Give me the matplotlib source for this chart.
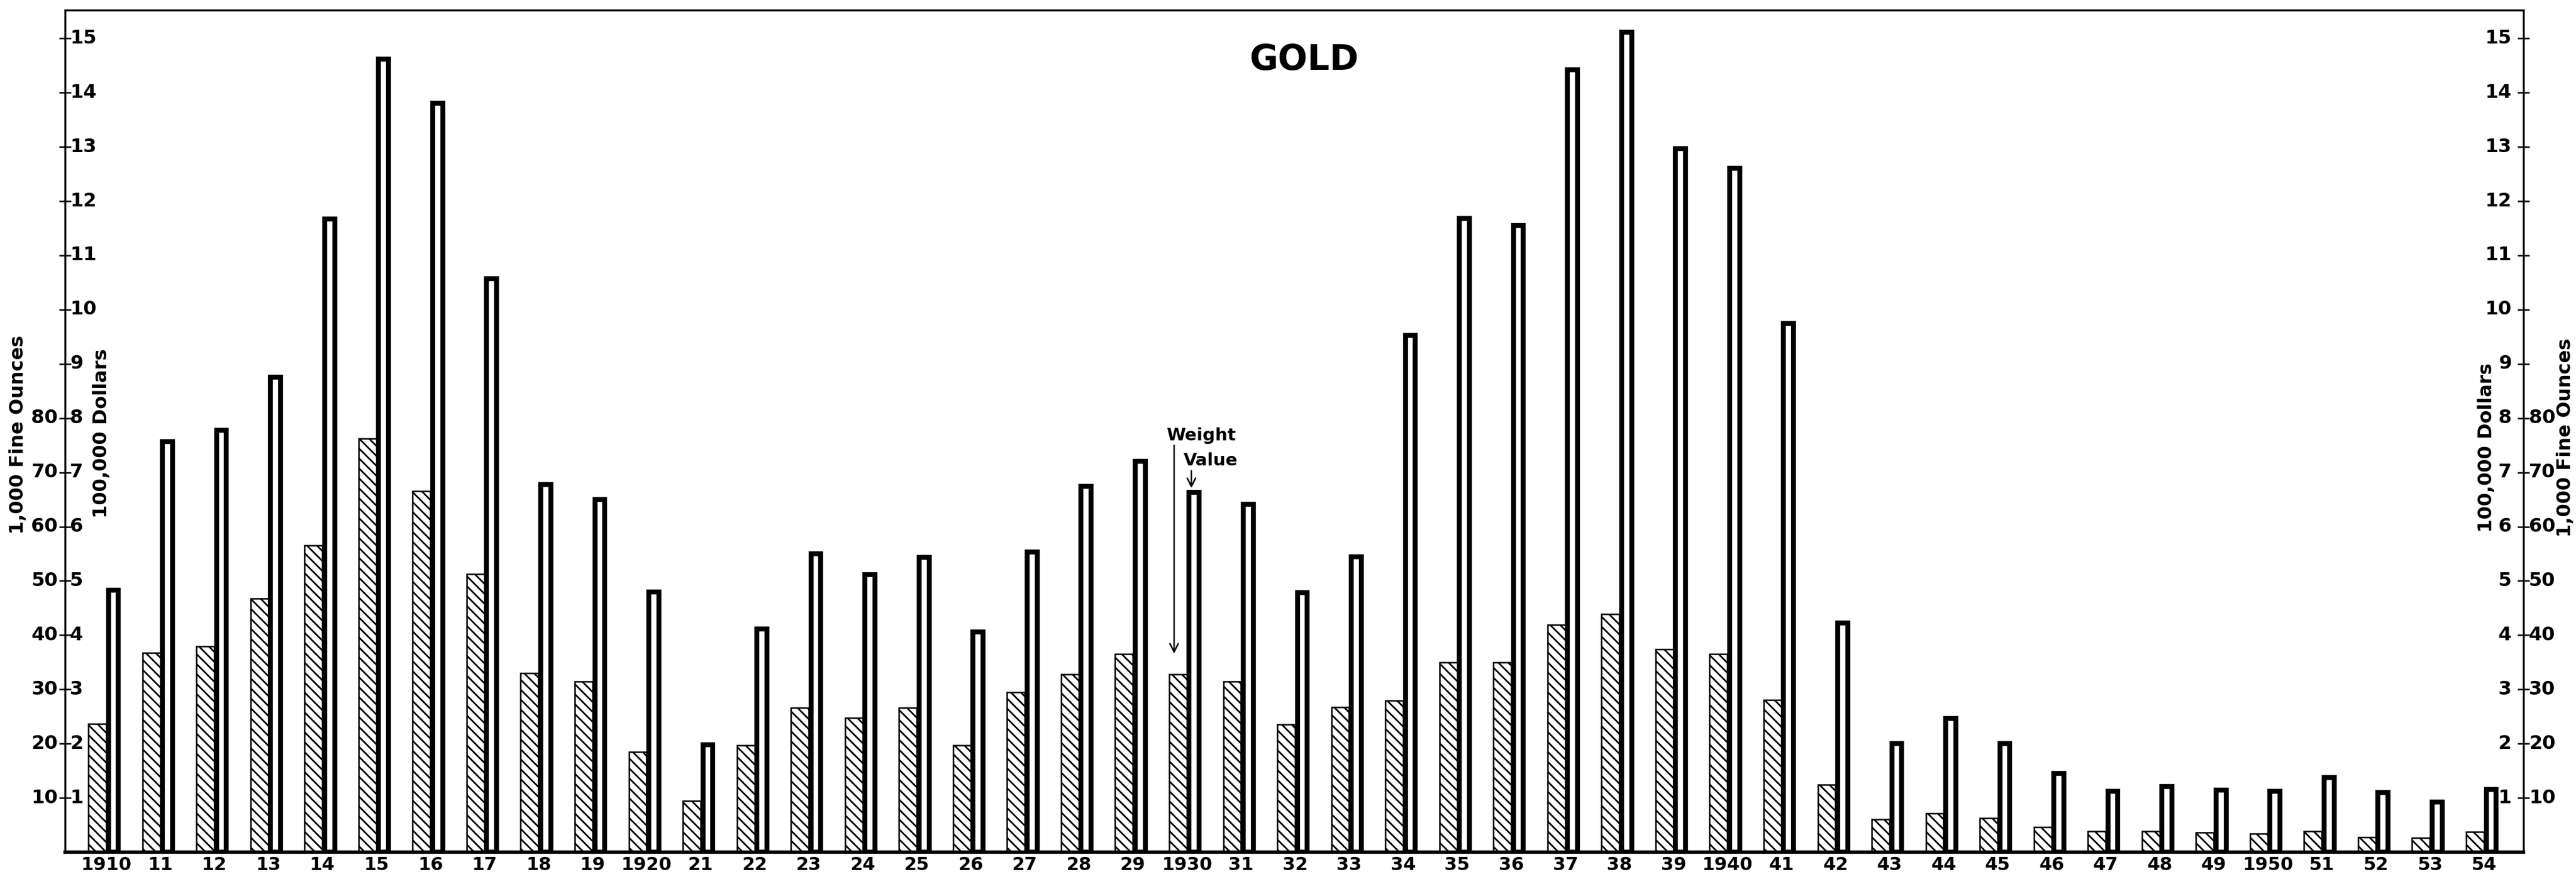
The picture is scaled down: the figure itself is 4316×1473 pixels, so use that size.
import numpy as np
import matplotlib
matplotlib.use("Agg")
import matplotlib.pyplot as plt

# data
years = list(range(1910, 1955))
year_labels = ["1910", "11", "12", "13", "14", "15", "16", "17", "18", "19",
               "1920", "21", "22", "23", "24", "25", "26", "27", "28", "29",
               "1930", "31", "32", "33", "34", "35", "36", "37", "38", "39",
               "1940", "41", "42", "43", "44", "45", "46", "47", "48", "49",
               "1950", "51", "52", "53", "54"]
# weight, 1,000 fine ounces
weight = [23.7, 36.7, 37.9, 46.7, 56.5, 76.2, 66.5, 51.3, 33.0, 31.5,
          18.5, 9.5, 19.7, 26.6, 24.8, 26.6, 19.7, 29.5, 32.8, 36.5,
          32.8, 31.5, 23.5, 26.7, 27.9, 35.0, 35.0, 41.9, 43.9, 37.4,
          36.5, 28.1, 12.4, 6.1, 7.1, 6.3, 4.6, 3.8, 3.8, 3.6,
          3.4, 3.8, 2.8, 2.6, 3.7]
# value, 100,000 dollars
value = [4.83, 7.57, 7.78, 8.76, 11.67, 14.62, 13.8, 10.57, 6.78, 6.5,
         4.8, 1.98, 4.11, 5.5, 5.12, 5.43, 4.06, 5.53, 6.74, 7.21,
         6.63, 6.41, 4.79, 5.45, 9.53, 11.68, 11.55, 14.42, 15.11, 12.97,
         12.61, 9.74, 4.22, 2.0, 2.46, 2.0, 1.45, 1.12, 1.21, 1.14,
         1.12, 1.37, 1.1, 0.92, 1.16]
dollar_ticks = list(range(1, 16))
ounce_ticks = [10, 20, 30, 40, 50, 60, 70, 80]

plt.rcParams['hatch.linewidth'] = 2.0
plt.rcParams['font.family'] = 'DejaVu Sans'

W, H = 4316, 1473
fig = plt.figure(figsize=(W / 100, H / 100), dpi=100)
ax = fig.add_axes([109 / W, (H - 1428) / H, (4228 - 109) / W, (1428 - 17) / H])

x = np.arange(len(years))
w_scaled = np.array(weight) / 10.0

ax.bar(x - 0.33, w_scaled, width=0.33, align='edge', color='white',
       edgecolor='black', linewidth=1.8, hatch='\\\\', zorder=2)
ax.bar(x + 0.1325, value, width=0.185, color='white', edgecolor='black',
       linewidth=6, zorder=3)

ax.set_xlim(-0.762, 44.73)
ax.set_ylim(0, 15.52)

ax.set_xticks(x)
ax.set_xticklabels(year_labels, fontsize=22, fontweight='bold')
ax.tick_params(axis='x', length=0, pad=5)

ax.set_yticks(dollar_ticks)
ax.tick_params(axis='y', direction='inout', length=15, width=1.8,
               left=True, right=True, labelleft=False, labelright=False)

for s in ['left', 'right', 'top']:
    ax.spines[s].set_linewidth(2.4)
ax.spines['bottom'].set_linewidth(4)

# tick labels on both sides
aw = 4228 - 109
ytr = ax.get_yaxis_transform()
tk = dict(va='center', fontsize=23, fontweight='bold', clip_on=False)
for v in dollar_ticks:
    ax.text(8 / aw, v, str(v), transform=ytr, ha='left', **tk)
    ax.text(1 - 20 / aw, v, str(v), transform=ytr, ha='right', **tk)
for v in ounce_ticks:
    ax.text(-12 / aw, v / 10, str(v), transform=ytr, ha='right', **tk)
    ax.text(1 + 9 / aw, v / 10, str(v), transform=ytr, ha='left', **tk)

# axis titles
lab = dict(rotation=90, ha='center', va='center', fontsize=23, fontweight='bold')
fig.text(31 / W, 1 - 728 / H, "1,000 Fine Ounces", **lab)
fig.text(170 / W, 1 - 726 / H, "100,000 Dollars", **lab)
fig.text(4167 / W, 1 - 750 / H, "100,000 Dollars", **lab)
fig.text(4298 / W, 1 - 733 / H, "1,000 Fine Ounces", **lab)

fig.text(2185 / W, 1 - 100 / H, "GOLD", ha='center', va='center', fontsize=42,
         fontweight='bold')

# Weight / Value key on the 1930 pair
i30 = years.index(1930)
ax.text(i30 - 0.38, 7.68, "Weight", ha='left', va='center', fontsize=21,
        fontweight='bold')
ax.text(i30 - 0.07, 7.22, "Value", ha='left', va='center', fontsize=21,
        fontweight='bold')
ax.annotate("", xy=(i30 - 0.24, w_scaled[i30] + 0.38), xytext=(i30 - 0.24, 7.5),
            arrowprops=dict(arrowstyle='->', lw=1.8, color='black',
                            mutation_scale=25, shrinkA=0, shrinkB=0))
ax.annotate("", xy=(i30 + 0.08, value[i30] + 0.08), xytext=(i30 + 0.08, 7.03),
            arrowprops=dict(arrowstyle='->', lw=1.8, color='black',
                            mutation_scale=25, shrinkA=0, shrinkB=0))

fig.savefig("out.png", dpi=100)
